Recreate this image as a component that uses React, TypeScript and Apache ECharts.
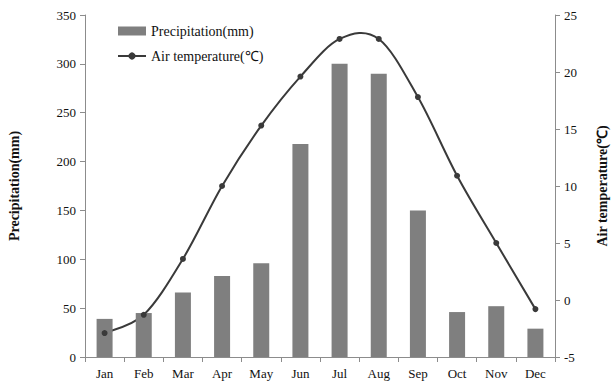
import React, { useEffect, useRef } from "react";
import * as echarts from "echarts";

const months = ["Jan", "Feb", "Mar", "Apr", "May", "Jun", "Jul", "Aug", "Sep", "Oct", "Nov", "Dec"];
const precipitation = [39, 45, 66, 83, 96, 218, 300, 290, 150, 46, 52, 29];
const temperature = [-2.9, -1.3, 3.6, 10.0, 15.3, 19.6, 22.9, 22.9, 17.8, 10.9, 5.0, -0.8];

const serif = "'Liberation Serif', 'Times New Roman', serif";
const axisGray = "#8c8c8c";
const lineColor = "#3a3a3a";

// Catmull-Rom style smoothing: each segment i -> i+1 is a cubic bezier
// whose control points follow the neighbouring points' slope.
function renderCurveSegment(params: any, api: any) {
  const i = params.dataIndex;
  const n = temperature.length;
  if (i >= n - 1) return null;
  const at = (k: number) => {
    const j = Math.max(0, Math.min(n - 1, k));
    return api.coord([j, temperature[j]]);
  };
  const p0 = at(i - 1);
  const p1 = at(i);
  const p2 = at(i + 1);
  const p3 = at(i + 2);
  return {
    type: "bezierCurve",
    shape: {
      x1: p1[0],
      y1: p1[1],
      x2: p2[0],
      y2: p2[1],
      cpx1: p1[0] + (p2[0] - p0[0]) / 6,
      cpy1: p1[1] + (p2[1] - p0[1]) / 6,
      cpx2: p2[0] - (p3[0] - p1[0]) / 6,
      cpy2: p2[1] - (p3[1] - p1[1]) / 6,
    },
    style: { stroke: lineColor, lineWidth: 2, fill: "none" },
  };
}

export default function App() {
  const ref = useRef<HTMLDivElement>(null);

  useEffect(() => {
    if (!ref.current) return;
    const chart = echarts.init(ref.current, null, { renderer: "svg" });
    chart.setOption({
      animation: false,
      backgroundColor: "#ffffff",
      textStyle: { fontFamily: serif },
      grid: { left: 85, right: 56, top: 15, bottom: 30, outerBoundsMode: "none", containLabel: false },
      legend: {
        orient: "vertical",
        left: 112,
        top: 19,
        itemWidth: 28,
        itemHeight: 9,
        itemGap: 11,
        textStyle: { fontFamily: serif, fontSize: 14, color: "#111" },
        data: [
          { name: "Precipitation(mm)", icon: "rect" },
          {
            name: "Air temperature(℃)",
            lineStyle: { color: lineColor, width: 2, opacity: 1 },
            itemStyle: { color: lineColor },
          },
        ],
      },
      xAxis: {
        type: "category",
        data: months,
        axisLine: { lineStyle: { color: axisGray, width: 1 } },
        axisTick: { show: true, alignWithLabel: false, length: 5, lineStyle: { color: axisGray } },
        axisLabel: { color: "#111", fontFamily: serif, fontSize: 13, margin: 10 },
        splitLine: { show: false },
      },
      yAxis: [
        {
          type: "value",
          min: 0,
          max: 350,
          interval: 50,
          name: "Precipitation(mm)",
          nameLocation: "middle",
          nameRotate: 90,
          nameGap: 64,
          nameTextStyle: { fontFamily: serif, fontWeight: "bold", fontSize: 14, color: "#111" },
          axisLine: { show: true, lineStyle: { color: axisGray } },
          axisTick: { show: true, length: 5, lineStyle: { color: axisGray } },
          axisLabel: { color: "#111", fontFamily: serif, fontSize: 13, margin: 9 },
          splitLine: { show: false },
        },
        {
          type: "value",
          min: -5,
          max: 25,
          interval: 5,
          position: "right",
          name: "Air temperature(℃)",
          nameLocation: "middle",
          nameRotate: 90,
          nameGap: 40,
          nameTextStyle: { fontFamily: serif, fontWeight: "bold", fontSize: 14, color: "#111" },
          axisLine: { show: true, lineStyle: { color: axisGray } },
          axisTick: { show: true, length: 5, lineStyle: { color: axisGray } },
          axisLabel: { color: "#111", fontFamily: serif, fontSize: 13, margin: 9 },
          splitLine: { show: false },
        },
      ],
      series: [
        {
          name: "Precipitation(mm)",
          type: "bar",
          yAxisIndex: 0,
          data: precipitation,
          barWidth: 16,
          itemStyle: { color: "#7f7f7f" },
        },
        {
          name: "temperatureCurve",
          type: "custom",
          yAxisIndex: 1,
          data: temperature.map((v, i) => [i, v]),
          encode: { x: 0, y: 1 },
          renderItem: renderCurveSegment,
          silent: true,
          z: 2,
        },
        {
          name: "Air temperature(℃)",
          type: "line",
          yAxisIndex: 1,
          data: temperature,
          symbol: "circle",
          symbolSize: 6,
          lineStyle: { color: lineColor, width: 2, opacity: 0 },
          itemStyle: { color: lineColor },
          z: 3,
        },
      ],
    });
    return () => chart.dispose();
  }, []);

  return <div ref={ref} style={{ width: 611, height: 387, position: "absolute", left: 0, top: 0 }} />;
}
